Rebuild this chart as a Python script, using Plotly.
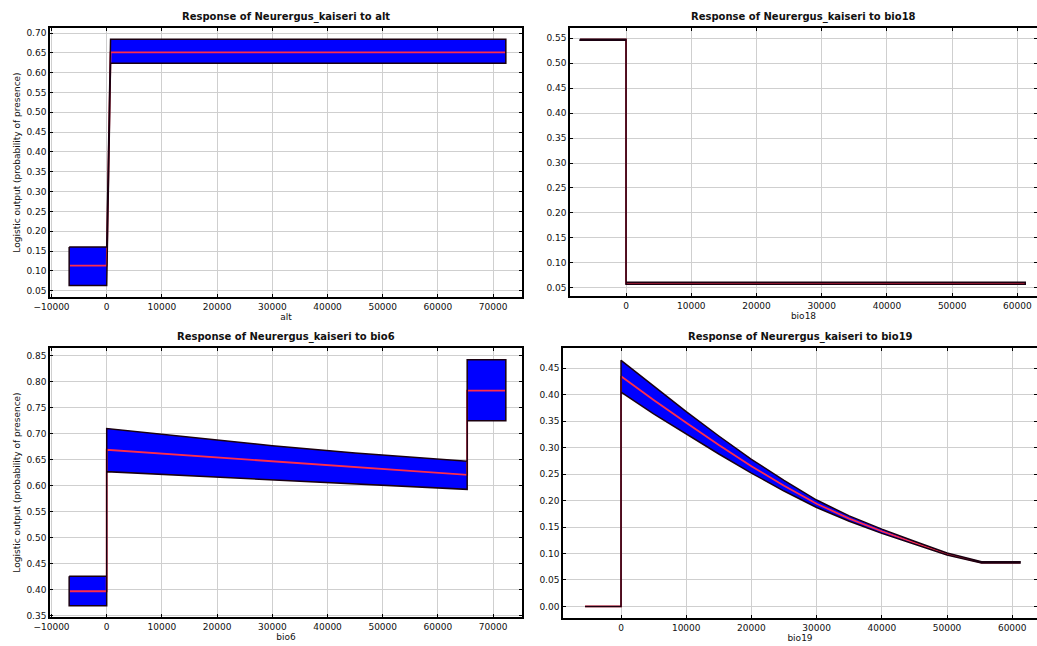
import plotly.graph_objects as go

W, H = 1037, 646

# ---------------- data ----------------
alt_x = [-6800, 0, 700, 72300]
alt_mean = [0.113, 0.113, 0.651, 0.651]
alt_upper = [0.160, 0.160, 0.684, 0.684]
alt_lower = [0.063, 0.063, 0.624, 0.624]

bio18_x = [-7050, 0, 0, 61200]
bio18_mean = [0.547, 0.547, 0.059, 0.059]
bio18_upper = [0.548, 0.548, 0.061, 0.061]
bio18_lower = [0.546, 0.546, 0.057, 0.057]

bio6_x = [-6800, 0, 0, 15000, 30000, 45000, 65300, 65300, 72300]
bio6_mean = [0.397, 0.397, 0.669, 0.658, 0.647, 0.636, 0.621, 0.783, 0.783]
bio6_upper = [0.426, 0.426, 0.710, 0.693, 0.677, 0.663, 0.647, 0.842, 0.842]
bio6_lower = [0.369, 0.369, 0.627, 0.619, 0.612, 0.604, 0.593, 0.725, 0.725]

bio19_x = [-5520, 0, 0, 5000, 10000, 15000, 20000, 25000, 30000, 35000,
           40000, 45000, 50000, 55300, 61200]
bio19_mean = [0.0, 0.0, 0.435, 0.390, 0.347, 0.305, 0.265, 0.228, 0.194,
              0.166, 0.142, 0.120, 0.099, 0.083, 0.083]
bio19_upper = [0.0, 0.0, 0.465, 0.416, 0.368, 0.322, 0.278, 0.238, 0.201,
               0.171, 0.146, 0.123, 0.101, 0.0842, 0.0842]
bio19_lower = [0.0, 0.0, 0.405, 0.364, 0.326, 0.288, 0.252, 0.218, 0.187,
               0.161, 0.138, 0.117, 0.097, 0.0818, 0.0818]

variables = ["alt", "bio18", "bio6", "bio19"]
species = "Neurergus_kaiseri"
y_title = "Logistic output (probability of presence)"

# ---------------- layout geometry (pixels) ----------------
panels = [
    ("alt", alt_x, alt_mean, alt_upper, alt_lower, 50, 522, 28, 297,
     [-10270, 75230], [0.0341, 0.7126], True),
    ("bio18", bio18_x, bio18_mean, bio18_upper, bio18_lower, 570, 1037, 28, 296,
     [-8590, 63000], [0.0334, 0.5706], False),
    ("bio6", bio6_x, bio6_mean, bio6_upper, bio6_lower, 50, 522, 348, 617,
     [-10270, 75230], [0.3475, 0.8648], True),
    ("bio19", bio19_x, bio19_mean, bio19_upper, bio19_lower, 563, 1037, 348, 618,
     [-8900, 63800], [-0.0219, 0.4883], False),
]

fig = go.Figure()
layout = dict(
    width=W, height=H,
    margin=dict(l=0, r=0, t=0, b=0, autoexpand=False),
    paper_bgcolor="white", plot_bgcolor="white",
    showlegend=False,
    font=dict(family="DejaVu Sans", size=9, color="#111111"),
)
annotations = []

for i, (var, xs, mean, up, lo, pl, pr, pt, pb, xr, yr, show_yt) in enumerate(panels):
    n = "" if i == 0 else str(i + 1)
    xa, ya = "x" + n, "y" + n
    poly_x = list(xs) + list(reversed(xs)) + [xs[0]]
    poly_y = list(up) + list(reversed(lo)) + [up[0]]
    # filled band
    fig.add_trace(go.Scatter(
        x=poly_x, y=poly_y, mode="lines", fill="toself",
        fillcolor="#0000ff", line=dict(color="rgba(0,0,0,0)", width=0),
        xaxis=xa, yaxis=ya, hoverinfo="skip"))
    # mean curve
    fig.add_trace(go.Scatter(
        x=xs, y=mean, mode="lines",
        line=dict(color="#ff2d4a", width=1.8),
        xaxis=xa, yaxis=ya))
    # dark outline of band
    fig.add_trace(go.Scatter(
        x=poly_x, y=poly_y, mode="lines",
        line=dict(color="#1a0010", width=1.5),
        xaxis=xa, yaxis=ya, hoverinfo="skip"))

    common = dict(
        showgrid=True, gridcolor="#cfcfcf", gridwidth=1,
        showline=True, linecolor="black", linewidth=1.5, mirror="ticks",
        ticks="inside", ticklen=3, tickcolor="black", tickwidth=1,
        zeroline=False, automargin=False,
        tickfont=dict(family="DejaVu Sans", size=9, color="#111111"),
    )
    layout["xaxis" + n] = dict(
        common,
        domain=[pl / W, pr / W], anchor=ya, range=xr,
        dtick=10000, tick0=0, tickformat="d",
        title=dict(text=var, font=dict(size=9), standoff=1),
    )
    yax = dict(
        common,
        domain=[1 - pb / H, 1 - pt / H], anchor=xa, range=yr,
        dtick=0.05, tick0=0, tickformat=".2f",
    )
    if show_yt:
        yax["title"] = dict(text=y_title, font=dict(size=9), standoff=4)
    layout["yaxis" + n] = yax

    annotations.append(dict(
        text="<b>Response of %s to %s</b>" % (species, var),
        xref="paper", yref="paper",
        x=(pl + pr) / 2 / W, y=1 - (pt - 3) / H,
        xanchor="center", yanchor="bottom", showarrow=False,
        font=dict(family="DejaVu Sans", size=10, color="#111111"),
    ))

layout["annotations"] = annotations
fig.update_layout(**layout)
fig.write_html(
    "out.html",
    config={"displayModeBar": False},
    post_script="document.body.style.margin='0px';document.body.style.overflow='hidden';",
)
